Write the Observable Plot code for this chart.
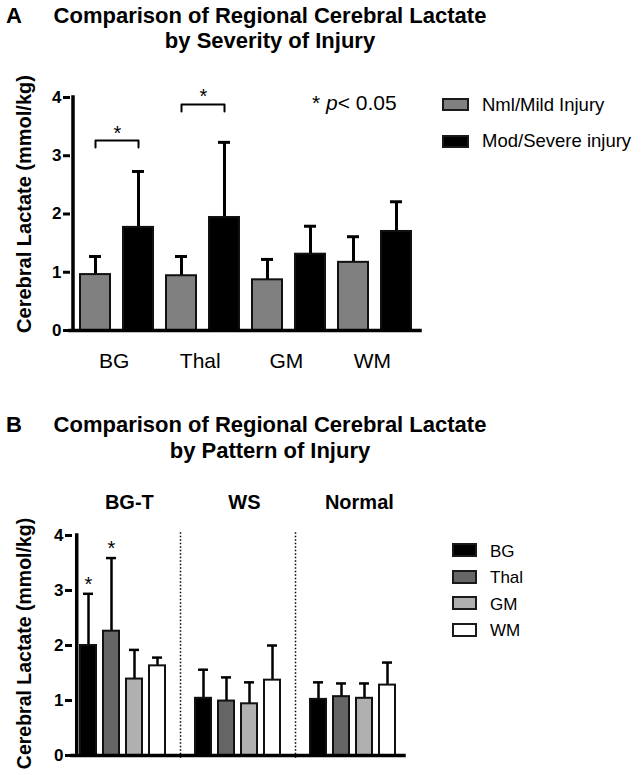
<!DOCTYPE html>
<html><head><meta charset="utf-8">
<script src="https://cdn.jsdelivr.net/npm/d3@7"></script>
<script src="https://cdn.jsdelivr.net/npm/@observablehq/plot@0.6"></script>
<style>
body{margin:0;background:#fff;}
#root{position:relative;width:641px;height:775px;overflow:hidden;font-family:"Liberation Sans",Arial,sans-serif;color:#000;background:#fff;}
.t{position:absolute;white-space:nowrap;line-height:1;}
.sw{position:absolute;box-sizing:border-box;border:2px solid #1a1a1a;}
#root > svg, #root > figure{position:absolute;left:0;margin:0;}
</style></head><body><div id="root"></div>
<script>
// ---------- Panel A data ----------
const regionsA = ["BG", "Thal", "GM", "WM"];
const severity = ["Nml/Mild Injury", "Mod/Severe injury"];
const nmlMean = [0.96, 0.94, 0.87, 1.17];
const nmlErr  = [0.31, 0.33, 0.35, 0.44];
const modMean = [1.77, 1.94, 1.31, 1.70];
const modErr  = [0.96, 1.29, 0.48, 0.51];
const sigA = [{region: "BG", level: 3.26}, {region: "Thal", level: 3.88}];
const colorsA = ["#808080", "#000000"];

// ---------- Panel B data ----------
const patterns = ["BG-T", "WS", "Normal"];
const regionsB = ["BG", "Thal", "GM", "WM"];
const bgtMean  = [2.00, 2.26, 1.39, 1.63];
const bgtErr   = [0.94, 1.33, 0.53, 0.15];
const wsMean   = [1.04, 0.99, 0.94, 1.37];
const wsErr    = [0.52, 0.43, 0.39, 0.63];
const normMean = [1.02, 1.07, 1.04, 1.28];
const normErr  = [0.31, 0.24, 0.27, 0.41];
const sigB = [{pattern: "BG-T", region: "BG"}, {pattern: "BG-T", region: "Thal"}];
const colorsB = ["#000000", "#666666", "#b0b0b0", "#ffffff"];

const yTicks = [0, 1, 2, 3, 4];
const FONT = "Liberation Sans, Arial, sans-serif";

// ---------- tables ----------
const dataA = [];
regionsA.forEach((r, i) => {
  dataA.push({key: r + "|N", region: r, sev: severity[0], mean: nmlMean[i], top: nmlMean[i] + nmlErr[i]});
  dataA.push({key: r + "|M", region: r, sev: severity[1], mean: modMean[i], top: modMean[i] + modErr[i]});
});
const keysA = dataA.map(d => d.key);

const meansB = [bgtMean, wsMean, normMean], errsB = [bgtErr, wsErr, normErr];
const dataB = [];
const domainB = [];
patterns.forEach((p, j) => {
  if (j > 0) domainB.push("gap" + j);
  regionsB.forEach((r, i) => {
    const key = p + "|" + r;
    domainB.push(key);
    dataB.push({key, pattern: p, region: r, mean: meansB[j][i], top: meansB[j][i] + errsB[j][i]});
  });
});
const gapsB = domainB.filter(k => k.startsWith("gap"));

const root = document.getElementById("root");
function txt(html, {left, baseline, size, weight = "normal", width = null, align = "left", style = ""}) {
  const d = document.createElement("div");
  d.className = "t";
  d.innerHTML = html;
  d.style.left = left + "px";
  d.style.top = (baseline - 0.8465 * size) + "px";
  d.style.fontSize = size + "px";
  d.style.fontWeight = weight;
  if (width) { d.style.width = width + "px"; d.style.textAlign = align; }
  if (style) d.style.cssText += style;
  root.appendChild(d);
}
function swatch(left, top, w, h, color) {
  const d = document.createElement("div");
  d.className = "sw";
  Object.assign(d.style, {left: left + "px", top: top + "px", width: w + "px", height: h + "px", background: color});
  root.appendChild(d);
}

// ---------- Panel A ----------
const padA = {inner: 0.311, outer: 0.172};
const mA = {top: 37, bottom: 50, left: 70, right: 221};
const xA = d3.scaleBand().domain(keysA).range([mA.left, 641 - mA.right]).paddingInner(padA.inner).paddingOuter(padA.outer);
const stepA = xA.step(), bwA = xA.bandwidth();
const capA = 12;

const plotA = Plot.plot({
  width: 641, height: 320,
  marginTop: mA.top, marginBottom: mA.bottom, marginLeft: mA.left, marginRight: mA.right,
  style: {fontFamily: FONT, background: "transparent", overflow: "visible", color: "#000"},
  x: {domain: keysA, paddingInner: padA.inner, paddingOuter: padA.outer, axis: null},
  y: {domain: [0, 4], axis: null},
  color: {domain: severity, range: colorsA},
  marks: [
    Plot.ruleX(dataA, {x: "key", y1: "mean", y2: "top", strokeWidth: 3}),
    Plot.tickY(dataA, {x: "key", y: "top", strokeWidth: 3, insetLeft: (bwA - capA) / 2, insetRight: (bwA - capA) / 2}),
    Plot.barY(dataA, {x: "key", y: "mean", fill: "sev", stroke: "#111", strokeWidth: 2}),
    Plot.ruleY([0], {strokeWidth: 3.5, strokeLinecap: "square"}),
    Plot.ruleX([keysA[0]], {x: d => d, y1: 0, y2: 4, dx: -(xA(keysA[0]) - mA.left) - bwA / 2, strokeWidth: 3.5, strokeLinecap: "square"}),
    Plot.axisY({ticks: yTicks, tickFormat: d3.format("d"), tickSize: 7, tickPadding: 2, strokeWidth: 3, fontSize: 17, fontWeight: "bold", label: null}),
    // significance brackets
    Plot.line(sigA.flatMap(s => [
      {g: s.region, key: s.region + "|N", y: s.level - 0.12},
      {g: s.region, key: s.region + "|N", y: s.level},
      {g: s.region, key: s.region + "|M", y: s.level},
      {g: s.region, key: s.region + "|M", y: s.level - 0.12}
    ]), {x: "key", y: "y", z: "g", strokeWidth: 2}),
    Plot.text(sigA, {x: d => d.region + "|N", y: "level", text: () => "*", dx: stepA / 2, dy: -1, lineAnchor: "bottom", fontSize: 20}),
    // x labels
    Plot.text(regionsA, {x: d => d + "|N", text: d => d, dx: stepA / 2 - 3, frameAnchor: "bottom", dy: 37, lineAnchor: "bottom", fontSize: 21}),
    // y label
    Plot.text(["Cerebral Lactate (mmol/kg)"], {text: d => d, frameAnchor: "left", textAnchor: "middle", rotate: -90, dx: -46, dy: -10, fontSize: 20, fontWeight: "bold"})
  ]
});
plotA.style.top = "60px";
root.appendChild(plotA);

// ---------- Panel B ----------
const padB = {inner: 0.283, outer: 0.137};
const mB = {top: 65, bottom: 20, left: 72, right: 237};
const xB = d3.scaleBand().domain(domainB).range([mB.left, 641 - mB.right]).paddingInner(padB.inner).paddingOuter(padB.outer);
const stepB = xB.step(), bwB = xB.bandwidth();
const capB = 11;

const plotB = Plot.plot({
  width: 641, height: 305,
  marginTop: mB.top, marginBottom: mB.bottom, marginLeft: mB.left, marginRight: mB.right,
  style: {fontFamily: FONT, background: "transparent", overflow: "visible", color: "#000"},
  x: {domain: domainB, paddingInner: padB.inner, paddingOuter: padB.outer, axis: null},
  y: {domain: [0, 4], axis: null},
  color: {domain: regionsB, range: colorsB},
  marks: [
    Plot.ruleX(gapsB, {x: d => d, y1: -0.05, y2: 4.05, strokeWidth: 1.5, strokeDasharray: "1.5,2"}),
    Plot.ruleX(dataB, {x: "key", y1: "mean", y2: "top", strokeWidth: 2.5}),
    Plot.tickY(dataB, {x: "key", y: "top", strokeWidth: 2.5, insetLeft: (bwB - capB) / 2, insetRight: (bwB - capB) / 2}),
    Plot.barY(dataB, {x: "key", y: "mean", fill: "region", stroke: "#111", strokeWidth: 2}),
    Plot.ruleY([0], {strokeWidth: 3.5, strokeLinecap: "square"}),
    Plot.ruleX([domainB[0]], {x: d => d, y1: 0, y2: 4, dx: -(xB(domainB[0]) - mB.left) - bwB / 2, strokeWidth: 3.5, strokeLinecap: "square"}),
    Plot.axisY({ticks: yTicks, tickFormat: d3.format("d"), tickSize: 7, tickPadding: 2, strokeWidth: 3, fontSize: 17, fontWeight: "bold", label: null}),
    Plot.text(sigB, {x: d => d.pattern + "|" + d.region, y: d => dataB.find(e => e.pattern === d.pattern && e.region === d.region).top, text: () => "*", dy: -3, lineAnchor: "bottom", fontSize: 20}),
    Plot.text(patterns, {x: d => d + "|Thal", text: d => d, dx: stepB / 2 + 6, frameAnchor: "top", dy: -27, lineAnchor: "bottom", fontSize: 20, fontWeight: "bold"}),
    Plot.text(["Cerebral Lactate (mmol/kg)"], {text: d => d, frameAnchor: "left", textAnchor: "middle", rotate: -90, dx: -48, dy: -2, fontSize: 19.5, fontWeight: "bold"})
  ]
});
plotB.style.top = "470px";
root.appendChild(plotB);

// ---------- titles ----------
txt("A", {left: 6, baseline: 24, size: 22, weight: "bold"});
txt("Comparison of Regional Cerebral Lactate", {left: -30, width: 600, align: "center", baseline: 24, size: 22, weight: "bold"});
txt("by Severity of Injury", {left: -30, width: 600, align: "center", baseline: 49, size: 22, weight: "bold"});
txt("B", {left: 6, baseline: 433, size: 22, weight: "bold"});
txt("Comparison of Regional Cerebral Lactate", {left: -30, width: 600, align: "center", baseline: 433, size: 22, weight: "bold"});
txt("by Pattern of Injury", {left: -30, width: 600, align: "center", baseline: 459, size: 22, weight: "bold"});

// p-value note
txt("* <i>p</i>&lt; 0.05", {left: 312, baseline: 110, size: 21});

// legend A
const legA = [{top: 98, base: 112}, {top: 135, base: 148}];
severity.forEach((s, i) => {
  swatch(442, legA[i].top, 27, 13, colorsA[i]);
  txt(s, {left: 482, baseline: legA[i].base, size: 18.5});
});
// legend B
const legBTop = [543, 569.5, 596, 622.5];
regionsB.forEach((r, i) => {
  swatch(452, legBTop[i], 25, 14, colorsB[i]);
  txt(r, {left: 490, baseline: legBTop[i] + 14, size: 17});
});
</script></body></html>
